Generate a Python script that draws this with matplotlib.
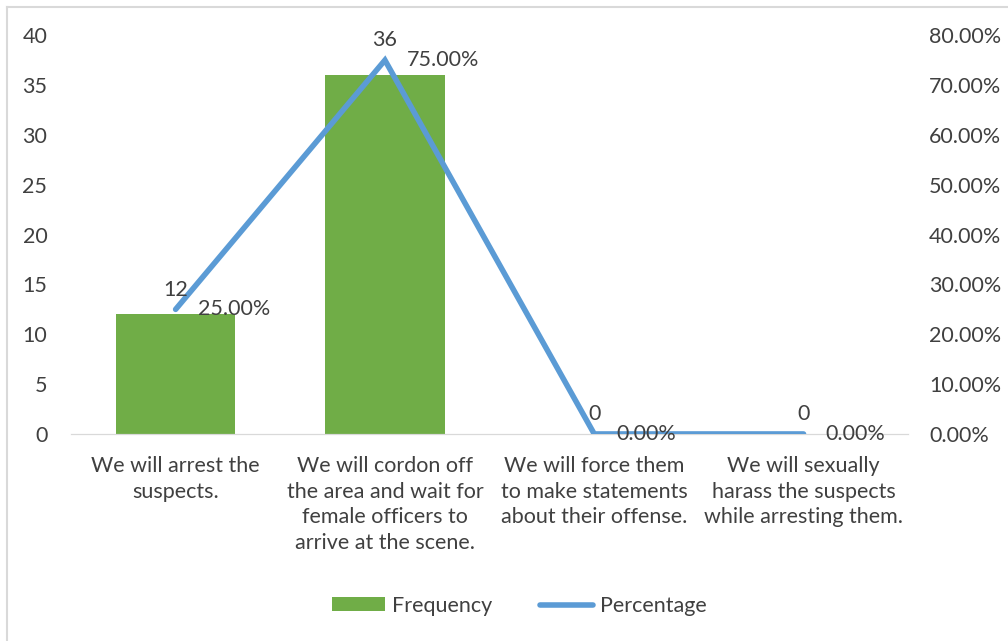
import matplotlib.pyplot as plt
from matplotlib.lines import Line2D
from matplotlib.ticker import FuncFormatter

plt.rcParams['font.family'] = ['Lato', 'DejaVu Sans']

categories = ["We will arrest the\nsuspects.",
              "We will cordon off\nthe area and wait for\nfemale officers to\narrive at the scene.",
              "We will force them\nto make statements\nabout their offense.",
              "We will sexually\nharass the suspects\nwhile arresting them."]
frequency = [12, 36, 0, 0]
percentage = [25.0, 75.0, 0.0, 0.0]

bar_color = '#70AD47'
line_color = '#5B9BD5'
text_color = '#404040'
fs = 15.5

fig = plt.figure(figsize=(10.08, 6.41), dpi=100)
ax = fig.add_axes([0.0704, 0.323, 0.8306, 0.622])
ax2 = ax.twinx()

x = range(len(categories))
ax.bar(x, frequency, width=0.57, color=bar_color, label='Frequency', zorder=2)
ax2.plot(x, percentage, color=line_color, linewidth=4, label='Percentage',
         solid_capstyle='round', solid_joinstyle='miter', zorder=3)

ax.set_xlim(-0.5, len(categories) - 0.5)
ax.set_ylim(0, 40)
ax2.set_ylim(0, 80)
ax.set_yticks(range(0, 41, 5))
ax2.set_yticks(range(0, 81, 10))
ax2.yaxis.set_major_formatter(FuncFormatter(lambda v, p: f"{v:.2f}%"))

ax.set_xticks(list(x))
ax.set_xticklabels(categories, fontsize=fs, color=text_color, linespacing=1.35)
for a in (ax, ax2):
    a.tick_params(axis='both', length=0, labelsize=fs, labelcolor=text_color)
    for s in a.spines.values():
        s.set_visible(False)
    a.spines['bottom'].set_visible(True)
    a.spines['bottom'].set_color('#D9D9D9')
ax.tick_params(axis='x', pad=16)
ax.tick_params(axis='y', pad=17)
ax2.tick_params(axis='y', pad=15)

# data labels
for i, (f, p) in enumerate(zip(frequency, percentage)):
    ax2.annotate(str(f), (i, p), xytext=(0, 7), textcoords='offset points',
                 ha='center', va='bottom', fontsize=fs, color=text_color, zorder=4)
    ax2.annotate(f"{p:.2f}%", (i, p), xytext=(16, 0), textcoords='offset points',
                 ha='left', va='center', fontsize=fs, color=text_color, zorder=4)

h1, l1 = ax.get_legend_handles_labels()
h2, l2 = ax2.get_legend_handles_labels()
fig.legend(h1 + h2, l1 + l2, loc='center', bbox_to_anchor=(0.515, 0.055), ncol=2,
           frameon=False, fontsize=fs, labelcolor=text_color,
           handlelength=2.5, handleheight=0.6, columnspacing=2.2, handletextpad=0.3)

# chart-area border (top and left edges visible)
fig.add_artist(Line2D([7 / 1008, 7 / 1008], [0, 1 - 7 / 641], transform=fig.transFigure,
                      color='#D9D9D9', linewidth=1.5))
fig.add_artist(Line2D([7 / 1008, 1], [1 - 7 / 641, 1 - 7 / 641], transform=fig.transFigure,
                      color='#D9D9D9', linewidth=1.5))

fig.savefig('out.png', dpi=100)
